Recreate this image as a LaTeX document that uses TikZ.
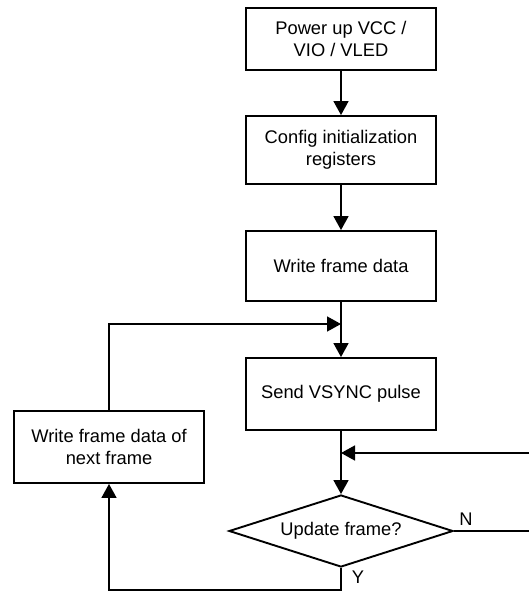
\documentclass[tikz,border=0pt]{standalone}
\usepackage{fontspec}
\setmainfont{Liberation Sans}
\usetikzlibrary{shapes.geometric,arrows.meta}
\begin{document}
\begin{tikzpicture}[x=1pt,y=-1pt,
  every node/.style={font=\fontsize{18.3}{22.5}\selectfont},
  box/.style={draw,line width=1.9pt,minimum width=190pt,align=center,inner sep=2pt},
  dec/.style={draw,line width=1.9pt,shape=diamond,minimum width=224pt,minimum height=72pt,inner sep=0pt,aspect=3},
  conn/.style={line width=1.6pt},
  arr/.style={conn,-{Triangle[length=14pt,width=15pt]}}]
\useasboundingbox (0,0) rectangle (529,594);
\node[box,minimum height=62pt] (b1) at (341,39) {Power up VCC /\\VIO / VLED};
\node[box,minimum height=68pt] (b2) at (341,150) {Config initialization\\registers};
\node[box,minimum height=70pt] (b3) at (341,266) {Write frame data};
\node[box,minimum height=72pt] (b4) at (341,394) {Send VSYNC pulse};
\node[box,minimum height=72pt] (nf) at (109,447) {Write frame data of\\next frame};
\node[dec] (d) at (341,531) {Update frame?};
\coordinate (j1) at (341,324);
\coordinate (j2) at (341,453);
\coordinate (rin) at (529,453);
\coordinate (rout) at (529,531);
\coordinate (bot) at (341,590);
\node (N) at (466,519) {N};
\node (Y) at (358,577) {Y};
\draw[arr] (b1) -- (b2);
\draw[arr] (b2) -- (b3);
\draw[arr] (b3) -- (b4);
\draw[arr] (b4) -- (d);
\draw[arr] (nf.north) |- (j1);
\draw[arr] (rin) -- (j2);
\draw[conn] (d.east) -- (rout);
\draw[arr] (d.south) -- (bot) -| (nf.south);
\end{tikzpicture}
\end{document}
